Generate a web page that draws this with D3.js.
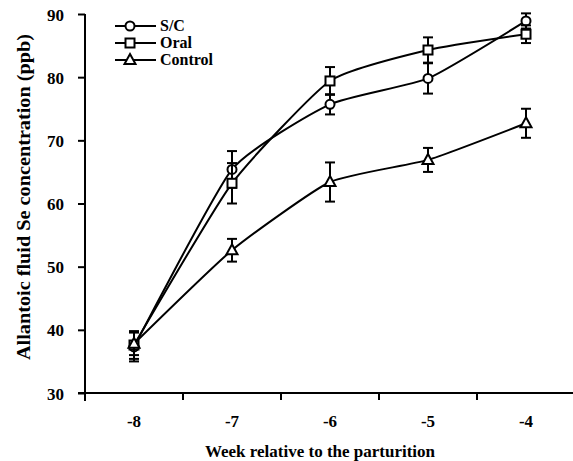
<!doctype html>
<html lang="en">
<head>
<meta charset="UTF-8">
<title>Allantoic fluid Se</title>
<script src="https://cdn.jsdelivr.net/npm/d3@7"></script>
<style>
  body { margin: 0; background: #fff; }
  svg { display: block; }
  text { font-family: "Liberation Serif", "Times New Roman", serif; font-weight: bold; fill: #000; }
</style>
</head>
<body>
<script>
var W = 573, H = 461;

// data
var weeks = ["-8", "-7", "-6", "-5", "-4"];
var scVals = [37.3, 65.4, 75.7, 79.8, 88.9];
var scErr = [2.3, 2.9, 1.6, 2.4, 1.2];
var oralVals = [37.6, 63.2, 79.4, 84.3, 86.8];
var oralErr = [2.2, 3.2, 2.2, 2.0, 1.4];
var ctrlVals = [37.8, 52.6, 63.4, 66.9, 72.7];
var ctrlErr = [1.8, 1.8, 3.1, 1.9, 2.3];
var yTicks = [30, 40, 50, 60, 70, 80, 90];
var seriesNames = ["S/C", "Oral", "Control"];

var series = [
  { name: seriesNames[0], vals: scVals, err: scErr, shape: "circle" },
  { name: seriesNames[1], vals: oralVals, err: oralErr, shape: "square" },
  { name: seriesNames[2], vals: ctrlVals, err: ctrlErr, shape: "triangle" }
];

var x = d3.scaleBand().domain(weeks).range([85, 575]);
var y = d3.scaleLinear().domain([30, 90]).range([393, 14]);
function cx(i) { return x(weeks[i]) + x.bandwidth() / 2; }

var svg = d3.select("body").append("svg").attr("width", W).attr("height", H);

// y axis
var yAx = svg.append("g").attr("transform", "translate(85,0)")
  .call(d3.axisLeft(y).tickValues(yTicks).tickSize(7).tickSizeOuter(0).tickPadding(14));
yAx.select(".domain").attr("stroke-width", 2).attr("d", "M0,14V401");
yAx.selectAll(".tick line").attr("stroke-width", 2);
yAx.selectAll(".tick text").style("font-size", "17px").attr("dy", "0.36em");

// x axis, ticks sit between the weeks
var xAx = svg.append("g").attr("transform", "translate(0,393)")
  .call(d3.axisBottom(x).tickSize(0).tickSizeOuter(0).tickPadding(22));
xAx.select(".domain").attr("stroke-width", 2).attr("d", "M78,0H573");
xAx.selectAll(".tick text").style("font-size", "17px");
xAx.selectAll(".bnd").data(weeks.slice(1)).enter().append("line")
  .attr("x1", function(d) { return x(d); }).attr("x2", function(d) { return x(d); })
  .attr("y1", 0).attr("y2", 7).attr("stroke", "#000").attr("stroke-width", 2);

svg.append("text").attr("x", 320).attr("y", 457).attr("text-anchor", "middle")
  .style("font-size", "17px").text("Week relative to the parturition");
svg.append("text").attr("transform", "translate(30,197) rotate(-90)").attr("text-anchor", "middle")
  .style("font-size", "18px").attr("textLength", 326).attr("lengthAdjust", "spacingAndGlyphs")
  .text("Allantoic fluid Se concentration (ppb)");

var line = d3.line().x(function(d, i) { return cx(i); }).y(function(d) { return y(d); })
  .curve(d3.curveCardinal.tension(0.5));

function marker(g, shape, px, py) {
  if (shape === "circle") {
    g.append("circle").attr("cx", px).attr("cy", py).attr("r", 4.5)
      .attr("fill", "#fff").attr("stroke", "#000").attr("stroke-width", 2);
  } else if (shape === "square") {
    g.append("rect").attr("x", px - 4.5).attr("y", py - 4.5).attr("width", 9).attr("height", 9)
      .attr("fill", "#fff").attr("stroke", "#000").attr("stroke-width", 2);
  } else {
    g.append("path").attr("d", "M" + px + "," + (py - 6) + "L" + (px + 5.5) + "," + (py + 4) + "L" + (px - 5.5) + "," + (py + 4) + "Z")
      .attr("fill", "#fff").attr("stroke", "#000").attr("stroke-width", 2);
  }
}

series.forEach(function(s) {
  var g = svg.append("g");
  g.append("path").datum(s.vals).attr("d", line)
    .attr("fill", "none").attr("stroke", "#000").attr("stroke-width", 2);
  s.vals.forEach(function(v, i) {
    var px = cx(i), top = y(v + s.err[i]), bot = y(v - s.err[i]);
    g.append("line").attr("x1", px).attr("x2", px).attr("y1", top).attr("y2", bot)
      .attr("stroke", "#000").attr("stroke-width", 2);
    [top, bot].forEach(function(yy) {
      g.append("line").attr("x1", px - 5).attr("x2", px + 5).attr("y1", yy).attr("y2", yy)
        .attr("stroke", "#000").attr("stroke-width", 2);
    });
    marker(g, s.shape, px, y(v));
  });
});

// legend
var lg = svg.append("g");
series.forEach(function(s, i) {
  var ly = 26 + i * 17;
  lg.append("line").attr("x1", 115).attr("x2", 156).attr("y1", ly).attr("y2", ly)
    .attr("stroke", "#000").attr("stroke-width", 2);
  marker(lg, s.shape, 130, ly);
  lg.append("text").attr("x", 160).attr("y", ly + 5).style("font-size", "16px").text(s.name);
});
</script>
</body>
</html>
